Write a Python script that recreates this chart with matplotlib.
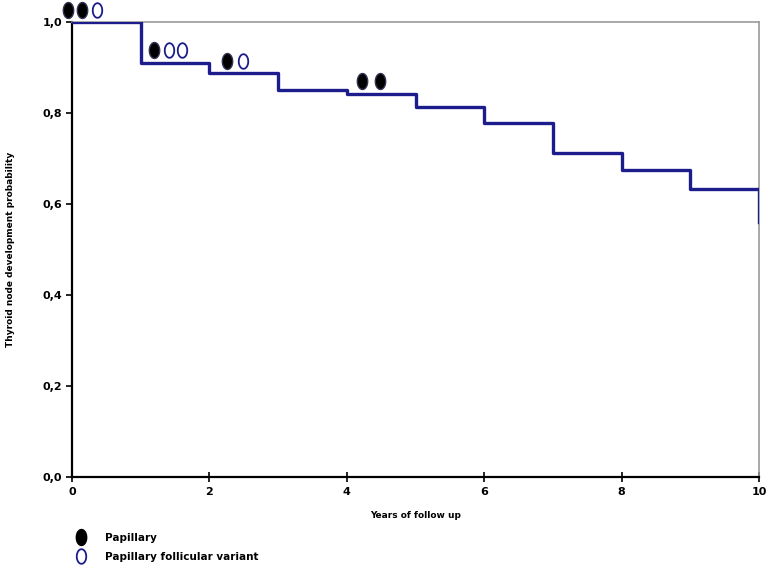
import matplotlib.pyplot as plt
import numpy as np
from matplotlib.path import Path
from matplotlib.lines import Line2D

# Kaplan-Meier style steps
step_times = [0, 1, 2, 3, 4, 5, 6, 7, 8, 9, 10]
step_probs = [1.0, 0.910, 0.888, 0.851, 0.842, 0.813, 0.778, 0.712, 0.675, 0.633, 0.560]

# event markers
pap_x = [-0.06, 0.15, 1.19, 2.26, 4.22, 4.48]
pap_y = [1.026, 1.026, 0.938, 0.914, 0.870, 0.870]
fv_x = [0.37, 1.41, 1.60, 2.49]
fv_y = [1.026, 0.938, 0.938, 0.914]

x_ticks = [0, 2, 4, 6, 8, 10]
y_ticks = [0.0, 0.2, 0.4, 0.6, 0.8, 1.0]
y_labels = ['0,0', '0,2', '0,4', '0,6', '0,8', '1,0']

navy = '#1c1c8c'

# elliptic marker (taller than wide)
th = np.linspace(0, 2 * np.pi, 60)
oval = Path(np.column_stack([0.65 * np.cos(th), np.sin(th)]), closed=True)

fig = plt.figure(figsize=(7.68, 5.73), dpi=100)
ax = fig.add_axes([0.0938, 0.1675, 0.8945, 0.7945])

# step line: last value drops right at 10
xs = step_times[:-1] + [10]
ys = step_probs[:-1] + [step_probs[-2]]
ax.step(xs, ys, where='post', color=navy, lw=2.4, zorder=3)
ax.plot([10, 10], [step_probs[-2], step_probs[-1]], color=navy, lw=2.4, zorder=3)

ax.plot(pap_x, pap_y, linestyle='none', marker=oval, markersize=11.5,
        color='black', markeredgecolor='#333355', clip_on=False, zorder=4)
ax.plot(fv_x, fv_y, linestyle='none', marker=oval, markersize=10.5,
        markerfacecolor='white', markeredgecolor=navy, markeredgewidth=1.3,
        clip_on=False, zorder=4)

ax.set_xlim(0, 10)
ax.set_ylim(0, 1.0)
ax.set_xticks(x_ticks)
ax.set_xticklabels([str(t) for t in x_ticks], fontsize=8, fontweight='bold')
ax.set_yticks(y_ticks)
ax.set_yticklabels(y_labels, fontsize=8, fontweight='bold')
ax.tick_params(axis='x', direction='inout', length=7, width=1.2, pad=4)
ax.tick_params(axis='y', direction='out', length=4, width=1.2, pad=3)

for s in ['left', 'bottom']:
    ax.spines[s].set_linewidth(1.6)
    ax.spines[s].set_color('black')
for s in ['top', 'right']:
    ax.spines[s].set_linewidth(1.2)
    ax.spines[s].set_color('#999999')

ax.set_xlabel('Years of follow up', fontsize=6.5, fontweight='bold')
ax.xaxis.set_label_coords(0.5, -0.075)
ax.set_ylabel('Thyroid node development probability', fontsize=6.5, fontweight='bold')
ax.yaxis.set_label_coords(-0.083, 0.5)

handles = [
    Line2D([], [], linestyle='none', marker=oval, markersize=11.5, color='black'),
    Line2D([], [], linestyle='none', marker=oval, markersize=10.5,
           markerfacecolor='white', markeredgecolor=navy, markeredgewidth=1.3),
]
fig.legend(handles, ['Papillary', 'Papillary follicular variant'],
           loc='upper left', bbox_to_anchor=(0.083, 0.087), frameon=False,
           handletextpad=1.6, labelspacing=0.9, handlelength=1.5,
           prop={'weight': 'semibold', 'size': 7.5})

fig.savefig('out.png', dpi=100)
